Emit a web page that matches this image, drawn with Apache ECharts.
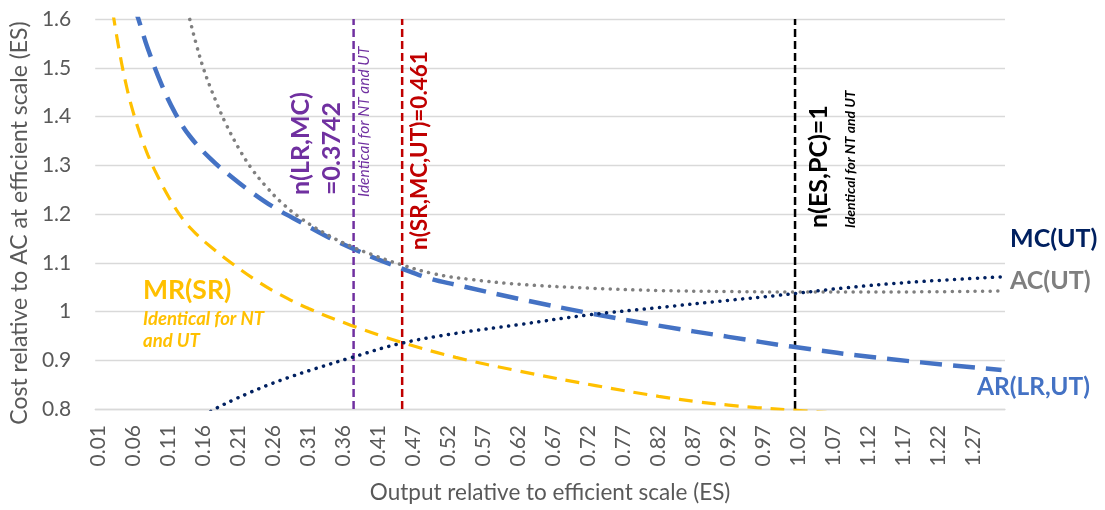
<!DOCTYPE html>
<html>
<head>
<meta charset="utf-8">
<script src="https://cdn.jsdelivr.net/npm/echarts@6/dist/echarts.min.js"></script>
<style>html,body{margin:0;padding:0;background:#fff}#c{width:1105px;height:510px}</style>
</head>
<body>
<div id="c"></div>
<script>
// Category labels on the x axis (as printed in the reference)
const categories = ['0.01','0.02','0.03','0.04','0.05','0.06','0.07','0.08','0.09','0.10',
'0.11','0.12','0.13','0.14','0.15','0.16','0.17','0.18','0.19','0.20',
'0.21','0.22','0.23','0.24','0.25','0.26','0.27','0.28','0.29','0.30',
'0.31','0.32','0.33','0.34','0.35','0.36','0.37','0.38','0.39','0.40',
'0.41','0.42','0.43','0.44','0.45','0.47','0.48','0.49','0.50','0.51',
'0.52','0.53','0.54','0.55','0.56','0.57','0.58','0.59','0.60','0.61',
'0.62','0.63','0.64','0.65','0.66','0.67','0.68','0.69','0.70','0.71',
'0.72','0.73','0.74','0.75','0.76','0.77','0.78','0.79','0.80','0.81',
'0.82','0.83','0.84','0.85','0.86','0.87','0.88','0.89','0.90','0.91',
'0.92','0.93','0.94','0.95','0.96','0.97','0.98','0.99','1.00','1.01',
'1.02','1.03','1.04','1.05','1.06','1.07','1.08','1.09','1.10','1.11',
'1.12','1.13','1.14','1.15','1.16','1.17','1.18','1.19','1.20','1.21',
'1.22','1.23','1.24','1.25','1.26','1.27','1.28','1.29','1.30','1.31'];

// MR(SR) – sampled points [category, value]
const mrX = ['0.03','0.04','0.05','0.06','0.07','0.08','0.09','0.11','0.13','0.15','0.17','0.20','0.24','0.27','0.31','0.37','0.44','0.53','0.62','0.73','0.82','0.88','0.92','0.96','1.01','1.06'];
const mrY = [1.615,1.53,1.46,1.405,1.36,1.322,1.29,1.235,1.19,1.158,1.133,1.099,1.059,1.034,1.006,0.972,0.938,0.906,0.878,0.848,0.826,0.814,0.808,0.803,0.798,0.793];

// AR(LR,UT)
const arX = ['0.06','0.07','0.08','0.10','0.12','0.14','0.17','0.20','0.23','0.26','0.30','0.34','0.37','0.40','0.44','0.49','0.53','0.62','0.72','0.82','0.92','1.01','1.14','1.31'];
const arY = [1.63,1.585,1.54,1.465,1.405,1.36,1.313,1.276,1.243,1.214,1.182,1.151,1.131,1.112,1.09,1.069,1.055,1.026,0.997,0.971,0.948,0.928,0.904,0.88];

// AC(UT)
const acX = ['0.13','0.14','0.15','0.16','0.17','0.18','0.19','0.21','0.23','0.25','0.27','0.30','0.34','0.37','0.40','0.44','0.50','0.55','0.62','0.72','0.82','0.92','1.01','1.14','1.31'];
const acY = [1.66,1.60,1.545,1.497,1.458,1.423,1.39,1.335,1.29,1.255,1.225,1.19,1.155,1.134,1.117,1.097,1.077,1.066,1.056,1.048,1.043,1.041,1.04,1.04,1.042];

// MC(UT)
const mcX = ['0.17','0.18','0.20','0.22','0.25','0.28','0.32','0.37','0.44','0.53','0.62','0.72','0.82','0.92','0.99','1.09','1.18','1.31'];
const mcY = [0.795,0.803,0.817,0.830,0.848,0.864,0.883,0.905,0.934,0.955,0.973,0.993,1.008,1.023,1.033,1.049,1.06,1.071];

// Vertical reference lines (x positions)
const vlineX = [0.3742, 0.4436, 1.005];
const vlineColor = ['#7030A0', '#C00000', '#000000'];

const yTicks = {min: 0.8, max: 1.6, interval: 0.1};

const pairs = (xs, ys) => xs.map((x, i) => [x, ys[i]]);
const FONT = 'Lato, "Noto Sans", sans-serif';
const txtGray = '#595959';

const chart = echarts.init(document.getElementById('c'), null, {renderer: 'canvas'});

const vSeries = vlineX.map((v, i) => ({
  type: 'line', xAxisIndex: 1, yAxisIndex: 0, symbol: 'none', silent: true,
  data: [[v, yTicks.min], [v, yTicks.max]],
  lineStyle: {color: vlineColor[i], width: 2.5, type: [8, 4]},
  z: 3
}));

function rotText(text, x, y, font, fill) {
  return {type: 'text', x: x, y: y, rotation: Math.PI / 2,
    style: {text: text, font: font, fill: fill, textAlign: 'left', textVerticalAlign: 'middle'}, z: 100};
}
function hText(text, x, y, font, fill) {
  return {type: 'text', x: x, y: y,
    style: {text: text, font: font, fill: fill, textAlign: 'left', textVerticalAlign: 'middle'}, z: 100};
}

chart.setOption({
  animation: false,
  backgroundColor: '#ffffff',
  grid: {left: 95, right: 100, top: 19, bottom: 101, containLabel: false},
  xAxis: [{
    type: 'category', data: categories, boundaryGap: true,
    name: 'Output relative to efficient scale (ES)', nameLocation: 'middle', nameGap: 72,
    nameTextStyle: {fontFamily: FONT, fontSize: 22.5, color: txtGray},
    axisLine: {lineStyle: {color: '#D9D9D9', width: 1.3}},
    axisTick: {show: false},
    axisLabel: {interval: 4, rotate: 90, fontFamily: FONT, fontSize: 21, color: txtGray, margin: 16},
    splitLine: {show: false}
  }, {
    type: 'value', min: 0.005, max: 1.305, show: false
  }],
  yAxis: [{
    type: 'value', min: yTicks.min, max: yTicks.max, interval: yTicks.interval,
    name: 'Cost relative to AC at efficient scale (ES)', nameLocation: 'middle', nameGap: 63,
    nameTextStyle: {fontFamily: FONT, fontSize: 23, color: txtGray, padding: [0, 18, 0, 0]},
    axisLine: {show: false}, axisTick: {show: false},
    axisLabel: {fontFamily: FONT, fontSize: 21, color: txtGray, margin: 24},
    splitLine: {lineStyle: {color: '#D9D9D9', width: 1.3}}
  }],
  series: [
    {name: 'MR(SR)', type: 'line', smooth: 0.4, symbol: 'none', clip: true,
     data: pairs(mrX, mrY), lineStyle: {color: '#FFC000', width: 3.2, type: [14, 9]}, z: 4},
    {name: 'AC(UT)', type: 'line', smooth: 0.4, symbol: 'none', clip: true,
     data: pairs(acX, acY), lineStyle: {color: '#7F7F7F', width: 3.5, type: [0.1, 7.5], cap: 'round'}, z: 5},
    {name: 'AR(LR,UT)', type: 'line', smooth: 0.4, symbol: 'none', clip: true,
     data: pairs(arX, arY), lineStyle: {color: '#4472C4', width: 4.5, type: [22, 11]}, z: 4},
    {name: 'MC(UT)', type: 'line', smooth: 0.4, symbol: 'none', clip: true,
     data: pairs(mcX, mcY), lineStyle: {color: '#002060', width: 3.5, type: [0.1, 7.5], cap: 'round'}, z: 5}
  ].concat(vSeries),
  graphic: [
    rotText('n(LR,MC)', 301, 195, 'bold 25px ' + FONT, '#7030A0'),
    rotText('=0.3742', 332, 195, 'bold 25px ' + FONT, '#7030A0'),
    rotText('Identical for NT and UT', 364, 197, 'italic 15.5px ' + FONT, '#7030A0'),
    rotText('n(SR,MC,UT)=0.461', 420, 250, 'bold 22.5px ' + FONT, '#C00000'),
    rotText('n(ES,PC)=1', 819, 228, 'bold 25px ' + FONT, '#000000'),
    rotText('Identical for NT and UT', 850, 228, 'bold italic 14px ' + FONT, '#000000'),
    hText('MC(UT)', 1010, 239, 'bold 25px ' + FONT, '#002060'),
    hText('AC(UT)', 1010, 281, 'bold 25px ' + FONT, '#7F7F7F'),
    hText('AR(LR,UT)', 977, 387, 'bold 24.5px ' + FONT, '#4472C4'),
    hText('MR(SR)', 143, 290, 'bold 26.5px ' + FONT, '#FFC000'),
    hText('Identical for NT', 143, 319, 'bold italic 18.5px ' + FONT, '#FFC000'),
    hText('and UT', 143, 341, 'bold italic 18.5px ' + FONT, '#FFC000')
  ]
});
</script>
</body>
</html>
